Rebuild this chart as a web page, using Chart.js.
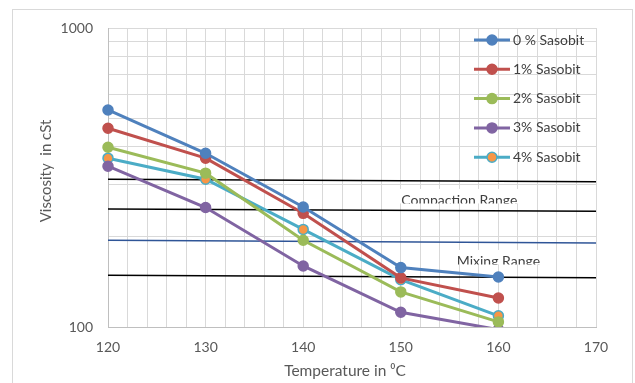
<!DOCTYPE html>
<html>
<head>
<meta charset="utf-8">
<script src="https://cdn.jsdelivr.net/npm/chart.js@4.4.1/dist/chart.umd.min.js"></script>
<style>
  body { margin: 0; background: #fff; }
  #wrap { position: relative; width: 635px; height: 383px; }
</style>
</head>
<body>
<div id="wrap"><canvas id="viscosity-chart" width="635" height="383"></canvas></div>
<script>
// temperatures (deg C) and viscosity (cSt)
const temps = [120, 130, 140, 150, 160];
const sasobit0 = [532, 381, 252, 158, 147];
const sasobit1 = [462, 367, 240, 146, 125];
const sasobit2 = [399, 327, 195, 131, 104];
const sasobit3 = [345, 251, 160, 112, 98];
const sasobit4 = [367, 312, 212, 144, 109];
const seriesNames = ['0 % Sasobit', '1% Sasobit', '2% Sasobit', '3% Sasobit', '4% Sasobit'];

// the hand drawn range lines, left and right end
const rangeX = [120, 170];
const compactionHigh = [312, 306];
const compactionLow = [248, 244];
const mixingHigh = [195, 191];
const mixingLow = [149, 146];
const rangeLabels = ['Compaction Range', 'Mixing Range'];
const rangeLabelX = [156, 160];
const rangeLabelY = [256, 160];

const xTickLabels = [120, 130, 140, 150, 160, 170];
const yTickLabels = [100, 1000];
const yGridValues = [100, 200, 300, 400, 500, 600, 700, 800, 900, 1000];

const colors = ['#4F81BD', '#C0504D', '#9BBB59', '#8064A2', '#4BACC6'];
const markerFill = ['#4F81BD', '#C0504D', '#9BBB59', '#8064A2', '#F79646'];
const FONT = 'Lato, "Open Sans", sans-serif';

function pts(ys) {
  return temps.map((t, i) => ({x: t, y: ys[i]}));
}
function rangePts(ys) {
  return rangeX.map((t, i) => ({x: t, y: ys[i]}));
}

const series = [sasobit0, sasobit1, sasobit2, sasobit3, sasobit4];
let datasets = series.map((s, i) => ({
  label: seriesNames[i],
  data: pts(s),
  borderColor: colors[i],
  backgroundColor: markerFill[i],
  pointBackgroundColor: markerFill[i],
  pointBorderColor: colors[i],
  pointBorderWidth: 1.5,
  pointRadius: 5,
  borderWidth: 3,
  lineTension: 0,
  order: 1,
  clip: {left: 8, top: 8, right: 8, bottom: 0}
}));

const ranges = [
  [compactionHigh, '#000000'],
  [compactionLow, '#000000'],
  [mixingHigh, '#2F5597'],
  [mixingLow, '#000000']
];
ranges.forEach(r => {
  datasets.push({
    label: '',
    data: rangePts(r[0]),
    borderColor: r[1],
    borderWidth: 1.5,
    pointRadius: 0,
    lineTension: 0,
    order: 5,
    clip: false
  });
});

const decorPlugin = {
  id: 'decor',
  beforeDraw(chart) {
    const ctx = chart.ctx;
    ctx.save();
    ctx.fillStyle = '#fff';
    ctx.fillRect(0, 0, chart.width, chart.height);
    ctx.strokeStyle = '#d9d9d9';
    ctx.lineWidth = 1;
    ctx.strokeRect(12.5, 9.5, 620, 380);
    ctx.restore();
  },
  beforeDatasetsDraw(chart) {
    // text boxes for the range labels, cut off at the bottom like the original
    const ctx = chart.ctx;
    const xs = chart.scales.x, ys = chart.scales.y;
    ctx.save();
    ctx.font = '14px ' + FONT;
    rangeLabels.forEach((txt, i) => {
      const cx = xs.getPixelForValue(rangeLabelX[i]);
      const by = ys.getPixelForValue(rangeLabelY[i]);
      const w = ctx.measureText(txt).width;
      ctx.fillStyle = '#fff';
      ctx.fillRect(cx - w / 2 - 6, by - 16, w + 12, 14.5);
      ctx.save();
      ctx.beginPath();
      ctx.rect(cx - w / 2 - 6, by - 20, w + 12, 18.5);
      ctx.clip();
      ctx.fillStyle = '#404040';
      ctx.textAlign = 'center';
      ctx.textBaseline = 'alphabetic';
      ctx.fillText(txt, cx, by);
      ctx.restore();
    });
    ctx.restore();
  },
  afterDraw(chart) {
    const ctx = chart.ctx;
    const area = chart.chartArea;
    ctx.save();
    // axis titles
    ctx.fillStyle = '#595959';
    ctx.font = '15.5px ' + FONT;
    ctx.textAlign = 'center';
    ctx.textBaseline = 'middle';
    ctx.fillText('Temperature in \u2070C', 345, 371);
    ctx.translate(46, 171);
    ctx.rotate(-Math.PI / 2);
    ctx.font = '15px ' + FONT;
    ctx.fillText('Viscosity  in cSt', 0, 0);
    ctx.restore();

    // legend inside the plot area
    ctx.save();
    ctx.font = '14px ' + FONT;
    ctx.textBaseline = 'middle';
    const lx = area.right - 122;
    const ly = area.top + 12;
    seriesNames.forEach((name, i) => {
      const y = ly + i * 29.3;
      ctx.strokeStyle = colors[i];
      ctx.lineWidth = 3;
      ctx.beginPath();
      ctx.moveTo(lx, y);
      ctx.lineTo(lx + 36, y);
      ctx.stroke();
      ctx.beginPath();
      ctx.arc(lx + 18, y, 5, 0, Math.PI * 2);
      ctx.fillStyle = markerFill[i];
      ctx.fill();
      ctx.lineWidth = 1.5;
      ctx.stroke();
      ctx.fillStyle = '#404040';
      ctx.fillText(name, lx + 39, y);
    });
    ctx.restore();
  }
};

let ctx = document.getElementById('viscosity-chart').getContext('2d');
let chart = new Chart(ctx, {
  type: 'line',
  data: { datasets: datasets },
  options: {
    responsive: false,
    animation: false,
    layout: { padding: { left: 0, top: 28, right: 39, bottom: 0 } },
    plugins: {
      legend: { display: false },
      tooltip: { enabled: false }
    },
    scales: {
      x: {
        type: 'linear',
        min: 120,
        max: 170,
        afterFit: (s) => { s.height = 56; },
        grid: { color: '#d9d9d9', drawTicks: false },
        border: { color: '#bfbfbf' },
        ticks: {
          stepSize: 2,
          autoSkip: false,
          maxRotation: 0,
          padding: 12,
          color: '#595959',
          font: { family: FONT, size: 14 },
          callback: (v) => xTickLabels.includes(v) ? String(v) : ''
        }
      },
      y: {
        type: 'logarithmic',
        min: 100,
        max: 1000,
        afterFit: (s) => { s.width = 108; },
        afterBuildTicks: (s) => { s.ticks = yGridValues.map(v => ({value: v})); },
        grid: { color: '#d9d9d9', drawTicks: false },
        border: { color: '#bfbfbf' },
        ticks: {
          autoSkip: false,
          padding: 15,
          color: '#595959',
          font: { family: FONT, size: 14 },
          callback: (v) => yTickLabels.includes(v) ? String(v) : ''
        }
      }
    }
  },
  plugins: [decorPlugin]
});
</script>
</body>
</html>
